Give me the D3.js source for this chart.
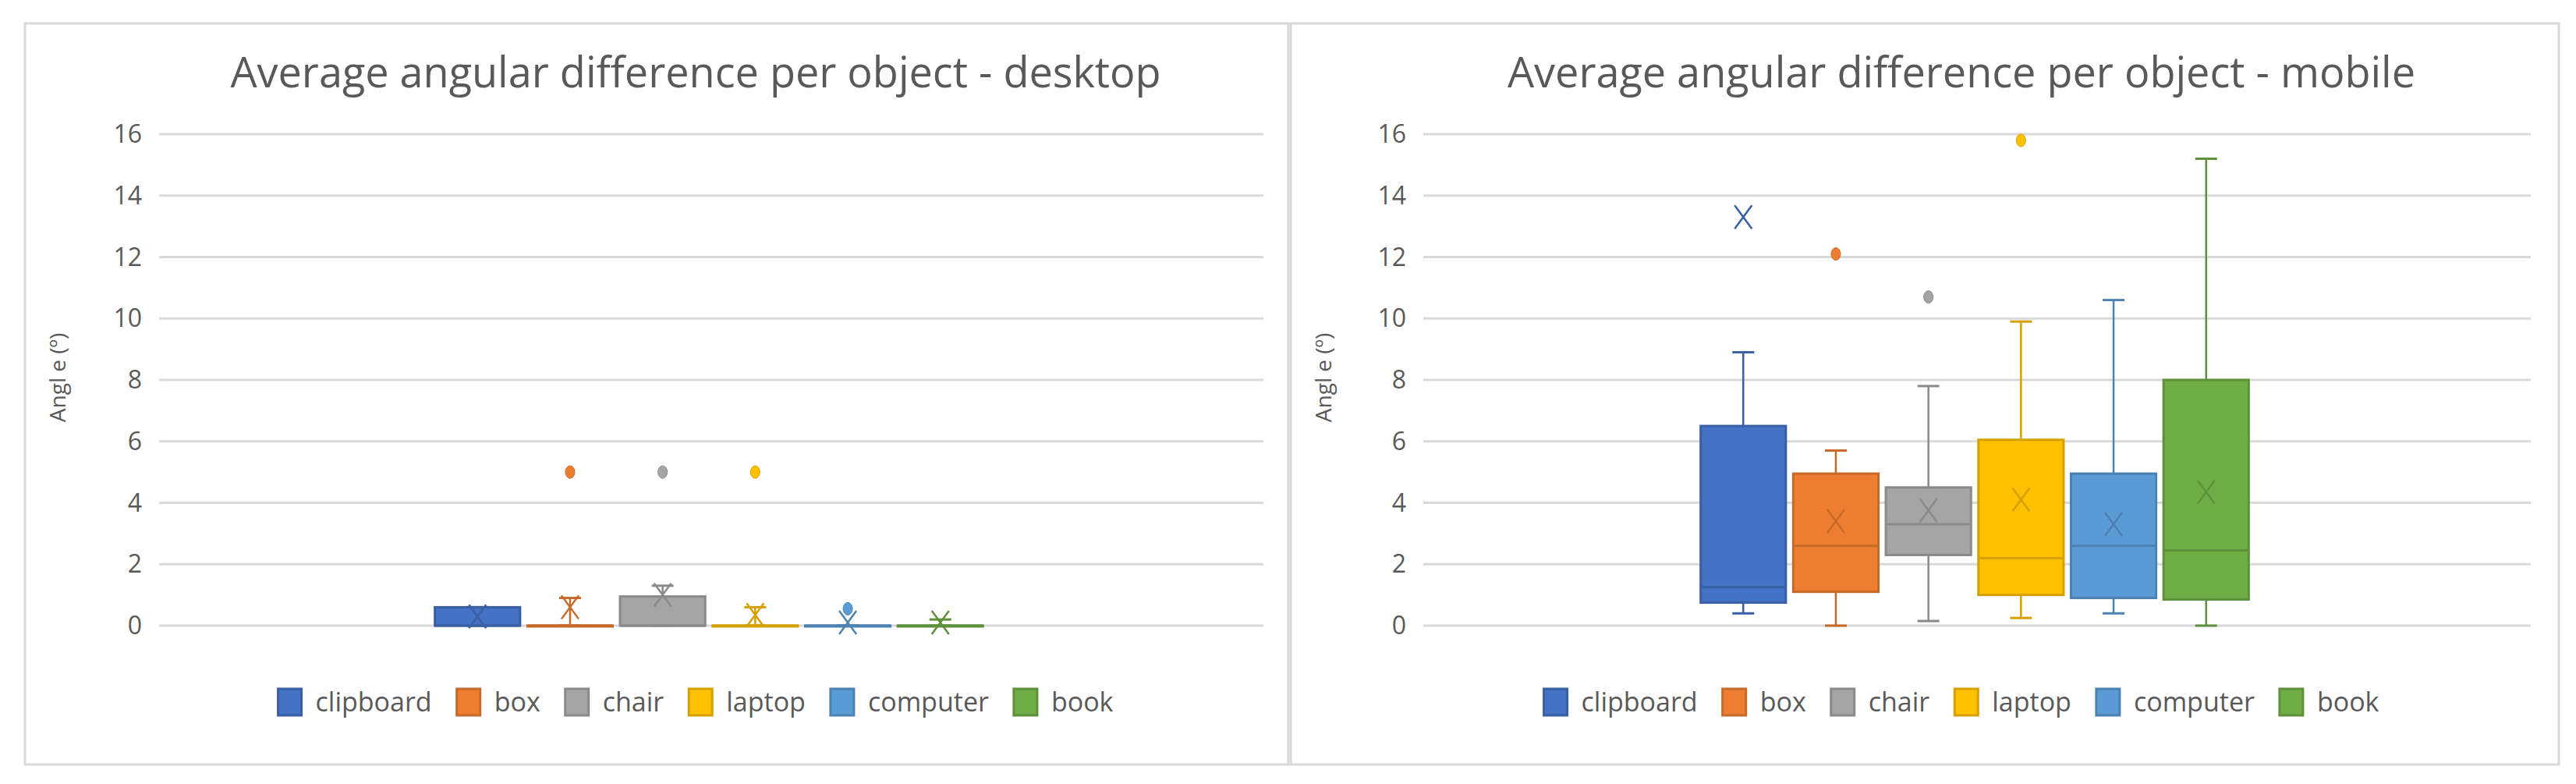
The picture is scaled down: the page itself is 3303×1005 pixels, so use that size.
<!DOCTYPE html>
<html><head><meta charset="utf-8">
<script src="https://cdn.jsdelivr.net/npm/d3@7"></script>
<style>body{margin:0;background:#fff}text{font-family:"Liberation Sans Narrow","Open Sans",sans-serif}</style>
</head><body>
<svg id="chart" width="3303" height="1005"></svg>
<script>
const categories=["clipboard","box","chair","laptop","computer","book"];
const colors=["#4472C4","#ED7D31","#A5A5A5","#FFC000","#5B9BD5","#70AD47"];
const yTicks=[0,2,4,6,8,10,12,14,16];
// [min, q1, median, q3, max, mean]
const desktopStats=[[0,0,0,0.6,0.6,0.3],[0,0,0,0,0.9,0.6],[0,0,0,0.95,1.3,1.0],[0,0,0,0,0.6,0.35],[0,0,0,0,0,0.1],[0,0,0,0,0.2,0.1]];
const desktopOutliers=[[],[5],[5],[5],[0.55],[]];
const mobileStats=[[0.4,0.75,1.25,6.5,8.9,13.3],[0,1.1,2.6,4.95,5.7,3.4],[0.15,2.3,3.3,4.5,7.8,3.75],[0.25,1.0,2.2,6.05,9.9,4.1],[0.4,0.9,2.6,4.95,10.6,3.3],[0,0.85,2.45,8.0,15.2,4.35]];
const mobileOutliers=[[],[12.1],[10.7],[15.8],[],[]];

let svg=d3.select("#chart");

function drawPanel(title,stats,outliers,px0,px1,left,right){
  let g=svg.append("g");
  g.append("rect").attr("x",px0).attr("y",30).attr("width",px1-px0).attr("height",950)
    .attr("fill","#fff").attr("stroke","#d9d9d9").attr("stroke-width",3);
  g.append("text").attr("x",(left+right)/2-20).attr("y",112).attr("text-anchor","middle")
    .attr("font-size",54).attr("fill","#595959").text(title);
  let y=d3.scaleLinear().domain([0,16]).range([802,172]);
  g.append("g").selectAll("line").data(yTicks).enter().append("line")
    .attr("x1",left).attr("x2",right).attr("y1",d=>y(d)).attr("y2",d=>y(d))
    .attr("stroke","#d9d9d9").attr("stroke-width",3);
  g.append("g").selectAll("text").data(yTicks).enter().append("text")
    .attr("x",left-22).attr("y",d=>y(d)+11).attr("text-anchor","end")
    .attr("font-size",32).attr("fill","#595959").text(d=>d);
  g.append("text").attr("transform","translate("+(px0+52)+",484) rotate(-90)")
    .attr("text-anchor","middle").attr("font-size",28).attr("fill","#595959").text("Angl e (º)");
  let step=118.7, c=(left+right)/2-3;
  let x=d3.scaleBand().domain(categories).range([c-3*step,c+3*step]).paddingInner(0.08).paddingOuter(0.04);
  categories.forEach(function(cat,i){
    let s=stats[i], col=colors[i], dk=d3.color(col).darker(0.5).toString();
    let x0=x(cat), w=x.bandwidth(), cx=x0+w/2;
    g.append("line").attr("x1",cx).attr("x2",cx).attr("y1",y(s[4])).attr("y2",y(s[3])).attr("stroke",dk).attr("stroke-width",2.5);
    g.append("line").attr("x1",cx).attr("x2",cx).attr("y1",y(s[1])).attr("y2",y(s[0])).attr("stroke",dk).attr("stroke-width",2.5);
    [s[0],s[4]].forEach(v=>g.append("line").attr("x1",cx-14).attr("x2",cx+14).attr("y1",y(v)).attr("y2",y(v)).attr("stroke",dk).attr("stroke-width",3));
    g.append("rect").attr("x",x0).attr("y",y(s[3])).attr("width",w).attr("height",Math.max(y(s[1])-y(s[3]),1))
      .attr("fill",col).attr("stroke",dk).attr("stroke-width",3);
    g.append("line").attr("x1",x0).attr("x2",x0+w).attr("y1",y(s[2])).attr("y2",y(s[2])).attr("stroke",dk).attr("stroke-width",3);
    let my=y(s[5]);
    g.append("path").attr("d","M"+(cx-11)+","+(my-15)+"L"+(cx+11)+","+(my+15)+"M"+(cx+11)+","+(my-15)+"L"+(cx-11)+","+(my+15))
      .attr("stroke",dk).attr("stroke-width",2.5).attr("fill","none");
    outliers[i].forEach(v=>g.append("ellipse").attr("cx",cx).attr("cy",y(v)).attr("rx",6).attr("ry",8).attr("fill",col).attr("stroke",dk));
  });
  // legend
  let lg=g.append("g");
  let xx=0;
  categories.forEach(function(cat,i){
    lg.append("rect").attr("x",xx).attr("y",-17).attr("width",30).attr("height",34)
      .attr("fill",colors[i]).attr("stroke",d3.color(colors[i]).darker(0.5)).attr("stroke-width",3);
    let t=lg.append("text").attr("x",xx+48).attr("y",12).attr("font-size",34).attr("fill","#595959").text(cat);
    xx+=48+t.node().getComputedTextLength()+32;
  });
  xx-=32;
  lg.attr("transform","translate("+((left+right)/2-xx/2-20)+",900)");
}

drawPanel("Average angular difference per object - desktop",desktopStats,desktopOutliers,32,1652,204,1620);
drawPanel("Average angular difference per object - mobile",mobileStats,mobileOutliers,1655,3281,1825,3245);
</script>
</body></html>
